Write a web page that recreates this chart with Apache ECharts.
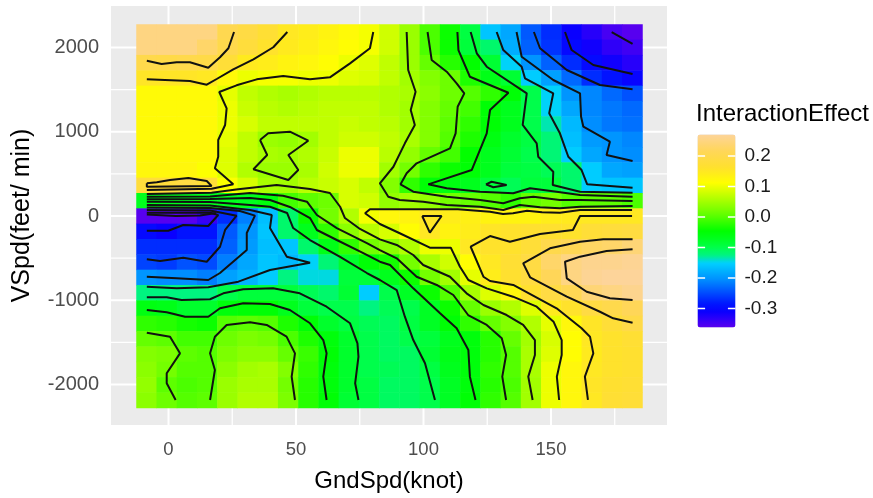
<!DOCTYPE html>
<html>
<head>
<meta charset="utf-8">
<style>html,body{margin:0;padding:0;background:#fff}#c{width:873px;height:498px}</style>
<script src="https://cdn.jsdelivr.net/npm/echarts@6/dist/echarts.min.js"></script>
</head>
<body>
<div id="c"></div>
<script>
const gndSpd = [-8.6,-0.7,7.3,15.2,23.1,31.1,39,46.9,54.9,62.8,70.7,78.7,86.6,94.6,102.5,110.4,118.4,126.3,134.2,142.2,150.1,158,166,173.9,181.9];
const vSpd = [2185,2003,1821,1639,1457,1275,1093,911,729,547,365,183,0,-183,-365,-547,-729,-911,-1093,-1275,-1457,-1639,-1821,-2003,-2185];
const effect = [
[.25,.25,.25,.25,.205,.19,.17,.15,.14,.13,.12,.105,.08,.045,-.005,-.04,-.095,-.16,-.185,-.24,-.27,-.31,-.33,-.35,-.36],
[.25,.25,.25,.23,.2,.18,.16,.145,.135,.125,.115,.105,.08,.045,-.005,-.04,-.09,-.115,-.18,-.235,-.265,-.3,-.315,-.335,-.345],
[.2,.195,.2,.195,.175,.145,.14,.13,.125,.115,.1,.09,.07,.045,.01,-.025,-.045,-.085,-.15,-.2,-.235,-.27,-.3,-.315,-.33],
[.155,.155,.155,.15,.12,.1,.105,.105,.1,.1,.09,.085,.07,.05,.03,.015,-.03,-.065,-.085,-.155,-.19,-.23,-.27,-.29,-.305],
[.12,.12,.12,.12,.095,.07,.06,.055,.06,.065,.065,.065,.06,.055,.035,.015,0,-.02,-.05,-.1,-.15,-.2,-.21,-.23,-.245],
[.12,.12,.12,.12,.1,.075,.065,.06,.065,.07,.07,.07,.06,.05,.03,.01,-.01,-.05,-.07,-.1,-.15,-.185,-.21,-.22,-.23],
[.12,.12,.12,.12,.1,.085,.07,.07,.07,.07,.075,.07,.065,.05,.03,.005,-.02,-.05,-.07,-.1,-.135,-.17,-.205,-.22,-.225],
[.12,.12,.12,.12,.095,.07,.045,.04,.05,.07,.08,.08,.07,.055,.03,0,-.03,-.06,-.08,-.095,-.12,-.165,-.195,-.2,-.21],
[.12,.12,.12,.12,.09,.07,.055,.05,.06,.075,.1,.1,.065,.04,.01,-.01,-.045,-.07,-.085,-.1,-.12,-.155,-.185,-.2,-.205],
[.125,.125,.125,.11,.09,.06,.045,.045,.055,.08,.1,.1,.05,.02,-.02,-.04,-.05,-.07,-.09,-.095,-.105,-.115,-.155,-.185,-.19],
[.18,.18,.19,.175,.11,.085,.055,.05,.065,.075,.085,.07,.03,-.02,-.05,-.06,-.07,-.09,-.105,-.09,-.09,-.115,-.155,-.16,-.16],
[-.07,-.07,-.07,-.07,-.07,-.07,-.055,-.01,.005,.015,.085,.08,.04,.05,.04,.02,.01,0,-.02,.01,.02,0,.005,.005,-.005],
[-.36,-.36,-.36,-.34,-.27,-.215,-.165,-.115,-.04,.02,.06,.105,.125,.13,.155,.14,.135,.13,.13,.13,.14,.145,.15,.15,.15],
[-.3,-.31,-.29,-.29,-.24,-.2,-.16,-.115,-.07,-.02,.035,.065,.085,.115,.15,.13,.14,.155,.16,.165,.165,.16,.175,.18,.185],
[-.27,-.27,-.27,-.27,-.235,-.195,-.165,-.16,-.115,-.065,-.02,.02,.035,.06,.1,.1,.15,.16,.16,.175,.2,.21,.225,.23,.24],
[-.255,-.26,-.245,-.25,-.215,-.185,-.16,-.17,-.15,-.12,-.08,-.05,-.035,.02,.055,.08,.115,.15,.17,.19,.23,.25,.26,.26,.265],
[-.2,-.205,-.205,-.215,-.19,-.175,-.155,-.125,-.145,-.145,-.09,-.09,-.07,-.04,.02,.05,.095,.14,.165,.185,.215,.25,.265,.27,.27],
[-.125,-.125,-.125,-.125,-.1,-.09,-.09,-.09,-.105,-.115,-.085,-.155,-.1,-.075,-.04,0,.055,.09,.125,.165,.19,.21,.24,.25,.26],
[-.06,-.065,-.08,-.08,-.055,-.05,-.05,-.07,-.09,-.1,-.1,-.125,-.105,-.1,-.075,-.04,.01,.045,.06,.09,.145,.16,.19,.2,.215],
[-.02,-.025,-.035,-.04,0,.005,0,-.03,-.05,-.08,-.095,-.105,-.11,-.095,-.075,-.05,-.02,.01,.03,.06,.095,.125,.155,.175,.195],
[.01,.005,-.01,-.01,.015,.025,.02,-.005,-.03,-.055,-.08,-.1,-.11,-.1,-.09,-.07,-.055,-.025,.01,.05,.085,.115,.15,.16,.17],
[.03,.025,.005,0,.025,.035,.035,.01,-.015,-.05,-.08,-.1,-.11,-.11,-.085,-.065,-.055,-.025,0,.055,.09,.115,.145,.16,.165],
[.035,.02,0,0,.035,.05,.055,.03,-.02,-.055,-.08,-.1,-.105,-.11,-.095,-.07,-.055,-.02,0,.055,.1,.125,.15,.16,.165],
[.04,.005,-.005,0,.045,.055,.055,.02,-.025,-.055,-.08,-.095,-.11,-.11,-.1,-.075,-.055,-.025,-.005,.05,.1,.125,.155,.165,.17],
[.035,.015,0,.005,.045,.06,.06,.025,-.025,-.05,-.085,-.095,-.11,-.11,-.1,-.075,-.05,-.02,0,.05,.1,.125,.15,.17,.175]
];

const contourC1 = [[-8.5,1844],[-2.7,1805],[3.2,1825],[8.4,1825],[15.6,1761],[20.2,1885],[23.5,1992],[25.7,2185]];
const contourC2 = [[-8.5,1623],[-1.4,1615],[8.4,1603],[15,1559],[18.9,1627],[25.4,1742],[33.3,1861],[41.1,2004],[46.6,2185]];
const contourC3 = [[80.3,2185],[79,1992],[71.2,1813],[63.3,1647],[55.5,1623],[45,1663],[34.6,1623],[26.7,1552],[19.9,1473],[22.8,1279],[22.2,1081],[19.5,903],[19.5,704],[18.2,566],[25.4,376],[16.9,323],[-8.5,309]];
const contourA = [[-8.5,388],[-4.6,400],[0.6,428],[7.8,451],[15,416],[16.9,356],[-8.5,348],[-8.5,388]];
const contourHourglass = [[35.9,903],[39.1,982],[47.6,1001],[54.8,894],[47,724],[50.9,546],[47,428],[33.3,555],[38.7,724],[35.9,903]];
const contourT1 = [[-8.5,261],[16.9,277],[27.3,317],[42.4,368],[55.5,321],[63.3,273],[67.3,110],[69.2,-24],[75.1,-154],[82.9,-277],[89.5,-344],[96,-463],[99.9,-582],[110.4,-721],[116.9,-918],[123.5,-1057],[132.6,-1176],[139.1,-1294],[143.7,-1473],[143.7,-1651],[141.1,-1908],[142.8,-2185]];
const contourT2 = [[-8.5,229],[16.3,232],[32,273],[44.9,241],[54.3,170],[58.2,12],[66,-143],[77.8,-321],[82.9,-404],[89.5,-502],[97.3,-721],[105.2,-819],[111.7,-938],[117.5,-1176],[124.8,-1294],[130.7,-1452],[132.4,-1651],[130.9,-1908],[132.4,-2185]];
const contourT3 = [[-8.5,198],[16.3,202],[32,214],[39.8,190],[47.6,107],[55.5,-24],[58.2,-166],[66,-285],[76.2,-439],[82.9,-543],[86.9,-582],[96,-859],[106.5,-1156],[113,-1334],[117.6,-1591],[118.2,-1908],[120.4,-2185]];
const contourT4 = [[-8.5,170],[16.3,166],[32,131],[39.8,110],[46.5,36],[48.9,-143],[55.5,-285],[67.3,-485],[77.8,-677],[82.9,-760],[89.5,-879],[92.7,-1196],[96,-1473],[100.6,-1749],[104.5,-2185]];
const contourL1 = [[181.8,71],[161.4,71],[153.5,39],[146.5,44],[140.6,63],[135.1,32],[131.2,24],[126.1,51],[113.5,80],[79,80],[77.1,32],[82.9,-95],[90.7,-205],[102.5,-376],[110.7,-376],[114.3,-602],[117.6,-760],[124.8,-859],[135.1,-958],[144.4,-1077],[151,-1255],[154.2,-1473],[154.2,-1651],[152.3,-1908],[153.2,-2185]];
const contourL6 = [[181.8,0],[161.4,0],[158.6,-166],[145.7,-214],[133.9,-305],[126.1,-238],[118.5,-365],[123.5,-721],[126.1,-772],[135.2,-819],[152.2,-1096],[162,-1334],[165.3,-1433],[166.6,-1631],[163.3,-1908],[164.5,-2185]];
const contourL7 = [[182,-277],[170.5,-277],[161.4,-305],[149.6,-384],[139.1,-562],[141.8,-728],[156.2,-958],[169.2,-1137],[174.4,-1215],[182,-1267]];
const contourL8 = [[182,-395],[171.8,-416],[161.4,-483],[155.5,-543],[156.2,-740],[164,-899],[173.1,-977],[182,-998]];
const contourTriangle = [[99.5,0],[107.1,0],[102.5,-198],[99.5,0]];
const contourU1 = [[93.4,2185],[94,1734],[96.9,1476],[95,1259],[96.6,1081],[92.7,863],[88.2,585],[82.9,388],[86.2,229],[90.7,190],[99.9,170],[109.1,131],[122.2,110],[131.3,71],[137.8,131],[145.7,103],[153.5,91],[161.4,110],[182,119]];
const contourU2 = [[101.6,2185],[103.2,1853],[109.1,1714],[113,1576],[116,1457],[113.4,1298],[112.6,982],[110.4,804],[97.3,626],[93.4,507],[91,376],[96,289],[109.1,229],[122.2,190],[131.3,151],[137.8,210],[143.1,229],[153.5,190],[161.4,190],[182,178]];
const contourU3 = [[113.3,2185],[113.7,1971],[118.2,1654],[133.3,1464],[126.1,1259],[124.8,982],[118.9,546],[101.9,376],[109.1,329],[122.2,289],[135.2,270],[141.8,329],[152.2,289],[161.4,249],[182,229]];
const contourU4 = [[118.5,2185],[120.9,1932],[124.8,1773],[140.5,1457],[138.9,1081],[144.4,863],[145,704],[150.9,526],[150.7,368],[161.4,289],[182,277]];
const contourSmall = [[124.5,376],[126.7,407],[132.6,368],[127.4,341],[124.5,376]];
const contourU5 = [[128.7,2185],[131.3,1971],[138.5,1773],[139.8,1635],[150.9,1457],[149.3,1220],[153.5,982],[156.8,704],[162,546],[164.2,376],[182,336]];
const contourU6 = [[136.5,2185],[138.5,1892],[150.9,1615],[161.4,1457],[161.8,1179],[162.7,1061],[173.1,882],[171.8,724],[182,653]];
const contourU7 = [[143.3,2185],[145.7,1992],[156.2,1734],[169.2,1556],[182,1505]];
const contourU8 = [[155.5,2185],[158.1,1971],[166.6,1793],[182,1686]];
const contourU9 = [[173.8,2185],[182,2043]];
const contourB2 = [[-8.5,-966],[-0.7,-966],[5.1,-998],[16.3,-989],[21.5,-918],[29.3,-870],[41,-859],[51.5,-918],[62,-1077],[71.2,-1274],[74.1,-1512],[74.5,-1671],[73.2,-1987],[74.5,-2185]];
const contourB3 = [[-8.5,-1116],[-0.7,-1144],[6.5,-1196],[15.6,-1196],[20.2,-1096],[29.3,-1037],[39.8,-1045],[47.6,-1116],[55.5,-1274],[60.7,-1473],[62,-1631],[60.7,-1908],[62,-2185]];
const contourB4 = [[16.3,-2185],[18.2,-1829],[16.3,-1631],[18.2,-1433],[22.8,-1294],[32,-1262],[38.5,-1294],[46.3,-1433],[49.6,-1631],[48.3,-1908],[49.6,-2185]];
const contourB5 = [[-8.5,-1386],[0.6,-1433],[4.5,-1631],[-0.7,-1868],[-0.7,-1987],[2.8,-2185]];
const contourBlue15 = [[-8.5,131],[16.3,125],[32,71],[37.1,36],[40.5,12],[39.8,-143],[46.4,-483],[55.5,-555],[39.8,-641],[27.4,-780],[15.6,-847],[3.2,-859],[-8.5,-840]];
const contourBlue20 = [[-8.5,101],[16.3,95],[28,59],[33.9,4],[30.7,-202],[30.7,-404],[20.2,-677],[15.6,-760],[3.2,-740],[-8.5,-721]];
const contourBlue25 = [[-8.5,71],[16.3,65],[26.7,4],[22.2,-166],[20.2,-365],[15,-543],[5.8,-495],[-3.3,-534],[-8.5,-514]];
const contourBlue30 = [[-8.5,39],[16.3,39],[19.5,12],[15.6,-119],[5.8,-107],[-0.1,-175],[-8.5,-175]];
const contourBlue35 = [[-8.5,18],[2.9,0],[12.4,6],[18.6,36]];

const contours = [contourC1,contourC2,contourC3,contourA,contourHourglass,contourT1,contourT2,contourT3,contourT4,contourL1,contourL6,contourL7,contourL8,contourTriangle,contourU1,contourU2,contourU3,contourU4,contourSmall,contourU5,contourU6,contourU7,contourU8,contourU9,contourB2,contourB3,contourB4,contourB5,contourBlue15,contourBlue20,contourBlue25,contourBlue30,contourBlue35];

const xTicks = [0,50,100,150];
const yTicks = [-2000,-1000,0,1000,2000];
const xMinor = [25,75,125,175];
const yMinor = [-1500,-500,500,1500];
const legendTicks = [-0.3,-0.2,-0.1,0,0.1,0.2];
const colorStops = ['#5A00EE','#3000F8','#0800FF','#0018FF','#0040FF','#0068FF','#0090FF','#00B0FF','#00D0FF','#00F480','#00FF48','#00FF20','#00FF00','#30FF00','#60FF00','#88FF00','#B0FF00','#D8FF00','#FFFF00','#FFEE18','#FFE030','#FFDB45','#FFD65A','#FED57A','#FDD49A'];
const X_MIN=-22.55, X_MAX=195.5, Y_MIN=-2482, Y_MAX=2494, V_MIN=-0.362, V_MAX=0.27;

const font = 'Liberation Sans, Arial, sans-serif';
const heatData = [];
effect.forEach((row,j)=>row.forEach((v,i)=>heatData.push([i,j,v])));
const series = [];
const gridLine = (data,w)=>({type:'line',xAxisIndex:0,yAxisIndex:0,data,symbol:'none',silent:true,z:1,animation:false,lineStyle:{color:'#fff',width:w}});
xTicks.forEach(x=>series.push(gridLine([[x,Y_MIN],[x,Y_MAX]],2)));
xMinor.forEach(x=>series.push(gridLine([[x,Y_MIN],[x,Y_MAX]],1.3)));
yTicks.forEach(y=>series.push(gridLine([[X_MIN,y],[X_MAX,y]],2)));
yMinor.forEach(y=>series.push(gridLine([[X_MIN,y],[X_MAX,y]],1.3)));
const heatIndex = series.length;
series.push({type:'heatmap',xAxisIndex:1,yAxisIndex:1,data:heatData,z:2,animation:false,silent:true,progressive:0,itemStyle:{borderWidth:0}});
contours.forEach(c=>series.push({type:'line',xAxisIndex:0,yAxisIndex:0,data:c,symbol:'none',silent:true,z:3,animation:false,clip:false,lineStyle:{color:'#111',width:2}}));
legendTicks.forEach(t=>{
  [[0,0.2],[0.8,1]].forEach(s=>series.push({type:'line',xAxisIndex:2,yAxisIndex:2,data:[[s[0],t],[s[1],t]],symbol:'none',silent:true,z:6,animation:false,lineStyle:{color:'#fff',width:1.5}}));
});

const chart = echarts.init(document.getElementById('c'),null,{renderer:'canvas'});
chart.setOption({
  animation:false,
  backgroundColor:'#fff',
  title:{text:'InteractionEffect',left:696,top:102,padding:0,textStyle:{fontFamily:font,fontSize:24,fontWeight:'normal',color:'#000'}},
  grid:[
    {left:111,top:6,width:556,height:419,show:true,backgroundColor:'#EBEBEB',borderWidth:0,containLabel:false},
    {left:136.5,top:24.5,width:506,height:383.5,containLabel:false},
    {left:697.5,top:134.5,width:38,height:193,containLabel:false}
  ],
  xAxis:[
    {type:'value',gridIndex:0,min:X_MIN,max:X_MAX,splitLine:{show:false},axisLine:{show:false},
      axisTick:{show:true,customValues:xTicks,length:8,lineStyle:{color:'#333',width:1.5}},
      axisLabel:{show:true,customValues:xTicks,margin:15,fontFamily:font,fontSize:18.5,color:'#4D4D4D',formatter:v=>String(v)},
      name:'GndSpd(knot)',nameLocation:'middle',nameGap:44,nameTextStyle:{fontFamily:font,fontSize:24,color:'#000'}},
    {type:'category',gridIndex:1,data:gndSpd,show:false},
    {type:'value',gridIndex:2,min:0,max:1,show:false}
  ],
  yAxis:[
    {type:'value',gridIndex:0,min:Y_MIN,max:Y_MAX,splitLine:{show:false},axisLine:{show:false},
      axisTick:{show:true,customValues:yTicks,length:6,lineStyle:{color:'#333',width:1.5}},
      axisLabel:{show:true,customValues:yTicks,margin:12,fontFamily:font,fontSize:20,color:'#4D4D4D',formatter:v=>String(v)},
      name:'VSpd(feet/ min)',nameLocation:'middle',nameRotate:90,nameGap:76,nameTextStyle:{fontFamily:font,fontSize:25,color:'#000'}},
    {type:'category',gridIndex:1,data:vSpd,inverse:true,show:false},
    {type:'value',gridIndex:2,min:V_MIN,max:V_MAX,position:'right',splitLine:{show:false},axisLine:{show:false},axisTick:{show:false},
      axisLabel:{show:true,customValues:legendTicks,margin:9,padding:[2,0,0,0],fontFamily:font,fontSize:19,color:'#1a1a1a',formatter:v=>Number(v).toFixed(1)}}
  ],
  visualMap:{type:'continuous',seriesIndex:heatIndex,min:V_MIN,max:V_MAX,show:true,calculable:false,hoverLink:false,
    left:697.5,top:134.5,itemWidth:38,itemHeight:193,text:null,showLabel:false,z:1,padding:0,
    inRange:{color:colorStops}},
  series
});
</script>
</body>
</html>
